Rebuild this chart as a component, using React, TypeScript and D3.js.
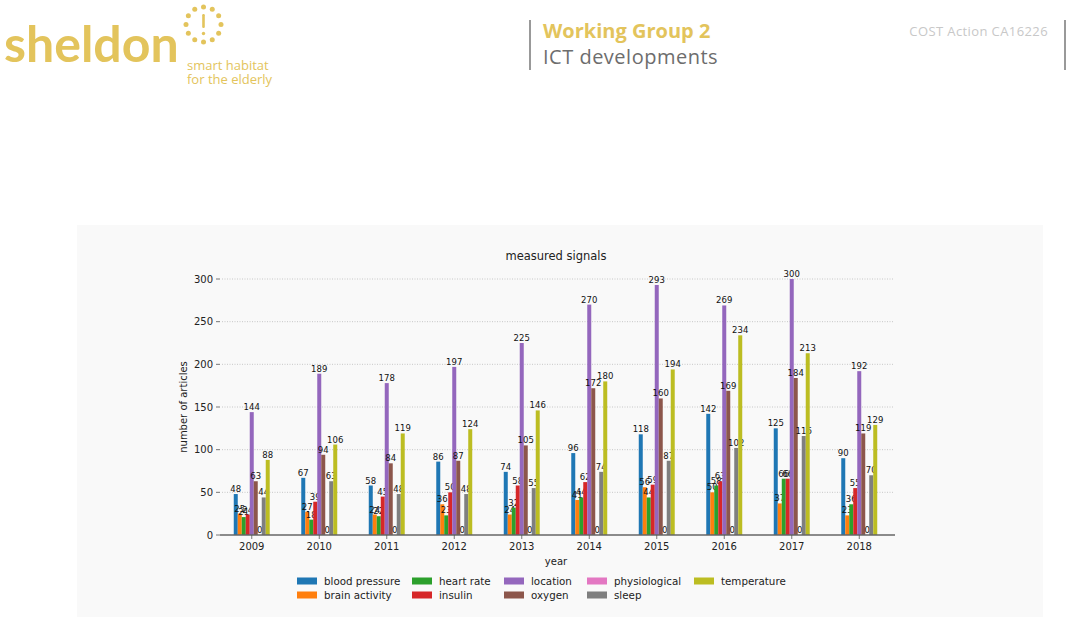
import * as d3 from "d3";

const years = ["2009", "2010", "2011", "2012", "2013", "2014", "2015", "2016", "2017", "2018"];
const seriesNames = [
  "blood pressure",
  "brain activity",
  "heart rate",
  "insulin",
  "location",
  "oxygen",
  "physiological",
  "sleep",
  "temperature",
];
const seriesColors = ["#1f77b4", "#ff7f0e", "#2ca02c", "#d62728", "#9467bd", "#8c564b", "#e377c2", "#7f7f7f", "#bcbd22"];

// one array per series, values by year
const bloodPressure = [48, 67, 58, 86, 74, 96, 118, 142, 125, 90];
const brainActivity = [25, 27, 24, 36, 24, 41, 56, 50, 37, 23];
const heartRate = [21, 18, 22, 23, 32, 44, 44, 58, 66, 36];
const insulin = [24, 39, 45, 50, 58, 62, 59, 63, 66, 55];
const location = [144, 189, 178, 197, 225, 270, 293, 269, 300, 192];
const oxygen = [63, 94, 84, 87, 105, 172, 160, 169, 184, 119];
const physiological = [0, 0, 0, 0, 0, 0, 0, 0, 0, 0];
const sleep = [44, 63, 48, 48, 55, 74, 87, 102, 116, 70];
const temperature = [88, 106, 119, 124, 146, 180, 194, 234, 213, 129];

const seriesValues = [bloodPressure, brainActivity, heartRate, insulin, location, oxygen, physiological, sleep, temperature];
const yTicks = [0, 50, 100, 150, 200, 250, 300];

const gold = "#e3c45c";
const chartFont = "'DejaVu Sans', sans-serif";
const headFont = "'Open Sans', Lato, sans-serif";

function Logo() {
  // ring of dots round an exclamation mark
  const dots = d3.range(12).map((i) => {
    const a = (i / 12) * Math.PI * 2;
    return { x: 203.5 + Math.cos(a) * 17.5, y: 24.5 + Math.sin(a) * 17.5 };
  });
  return (
    <g>
      <text x={4} y={62} fontFamily="Lato, 'Open Sans', sans-serif" fontWeight={700} fontSize={50} fill={gold}>
        sheldon
      </text>
      {dots.map((d, i) => (
        <circle key={i} cx={d.x} cy={d.y} r={2.5} fill={gold} />
      ))}
      <rect x={202.2} y={14} width={2.6} height={14} rx={1.2} fill={gold} />
      <circle cx={203.5} cy={33.5} r={1.7} fill={gold} />
      <text x={187} y={70} fontFamily={headFont} fontSize={13} fill={gold}>
        smart habitat
      </text>
      <text x={187} y={84} fontFamily={headFont} fontSize={13} fill={gold}>
        for the elderly
      </text>
    </g>
  );
}

export default function App() {
  const W = 1073;
  const H = 617;
  const x0 = d3.scaleBand<string>().domain(years).range([218, 893]).paddingInner(0.467).paddingOuter(0.2335);
  const x1 = d3.scaleBand<string>().domain(seriesNames).range([0, x0.bandwidth()]);
  const y = d3.scaleLinear().domain([0, 300]).range([535, 279]);

  const legendCols = [297, 412, 504, 587, 694];
  const legendRows = [581, 595];

  return (
    <svg width={W} height={H} style={{ position: "absolute", left: 0, top: 0, background: "#fff" }}>
      <Logo />
      <line x1={530} x2={530} y1={20} y2={70} stroke="#777" strokeWidth={1.5} />
      <text x={543} y={38} fontFamily={headFont} fontWeight={700} fontSize={20} fill={gold}>
        Working Group 2
      </text>
      <text x={543} y={64} fontFamily={headFont} fontSize={20} letterSpacing={0.5} fill="#6d6d6d">
        ICT developments
      </text>
      <text x={1048} y={36} textAnchor="end" fontFamily={headFont} fontSize={13} letterSpacing={0.4} fill="#c8c8c8">
        COST Action CA16226
      </text>
      <line x1={1065} x2={1065} y1={20} y2={70} stroke="#777" strokeWidth={1.5} />

      {/* chart panel */}
      <rect x={77} y={225} width={966} height={392} fill="#f9f9f9" />
      <text x={556} y={260} textAnchor="middle" fontFamily={chartFont} fontSize={11.5} fill="#222">
        measured signals
      </text>

      {yTicks.map((t) => (
        <g key={t}>
          {t > 0 && (
            <line x1={222} x2={893} y1={y(t)} y2={y(t)} stroke="#bbb" strokeWidth={0.8} strokeDasharray="1,1.5" />
          )}
          <line x1={216} x2={220} y1={y(t)} y2={y(t)} stroke="#555" strokeWidth={0.8} />
          <text x={213} y={y(t) + 3.5} textAnchor="end" fontFamily={chartFont} fontSize={10} fill="#222">
            {t}
          </text>
        </g>
      ))}
      <text
        transform={`translate(187,${y(150)}) rotate(-90)`}
        textAnchor="middle"
        fontFamily={chartFont}
        fontSize={10}
        fill="#222"
      >
        number of articles
      </text>

      {years.map((yr, yi) => (
        <g key={yr} transform={`translate(${x0(yr)},0)`}>
          {seriesNames.map((s, si) => {
            const v = seriesValues[si][yi];
            const bx = x1(s) ?? 0;
            return (
              <g key={s}>
                <rect x={bx} y={y(v)} width={x1.bandwidth()} height={y(0) - y(v)} fill={seriesColors[si]} />
                <text
                  x={bx + x1.bandwidth() / 2}
                  y={y(v) - 2}
                  textAnchor="middle"
                  fontFamily={chartFont}
                  fontSize={8.5}
                  fill="#111"
                >
                  {v}
                </text>
              </g>
            );
          })}
        </g>
      ))}

      <line x1={220} x2={895} y1={y(0)} y2={y(0)} stroke="#666" strokeWidth={1.3} />
      {years.map((yr) => {
        const cx = (x0(yr) ?? 0) + x0.bandwidth() / 2;
        return (
          <g key={yr}>
            <line x1={cx} x2={cx} y1={y(0)} y2={y(0) + 4} stroke="#555" strokeWidth={0.8} />
            <text x={cx} y={550} textAnchor="middle" fontFamily={chartFont} fontSize={10} fill="#222">
              {yr}
            </text>
          </g>
        );
      })}
      <text x={556} y={565} textAnchor="middle" fontFamily={chartFont} fontSize={10} fill="#222">
        year
      </text>

      {seriesNames.map((s, i) => {
        const col = Math.floor(i / 2);
        const row = i % 2;
        const lx = legendCols[col];
        const ly = legendRows[row];
        return (
          <g key={s}>
            <rect x={lx} y={ly - 3.5} width={20} height={7} fill={seriesColors[i]} />
            <text x={lx + 27} y={ly + 3.5} fontFamily={chartFont} fontSize={10.3} fill="#222">
              {s}
            </text>
          </g>
        );
      })}
    </svg>
  );
}
